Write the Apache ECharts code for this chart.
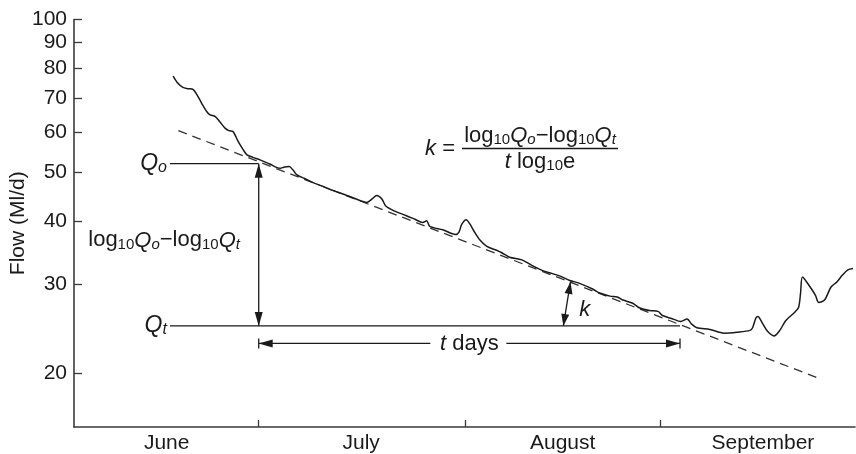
<!DOCTYPE html>
<html><head><meta charset="utf-8">
<script src="https://cdn.jsdelivr.net/npm/echarts@6/dist/echarts.min.js"></script>
<style>html,body{margin:0;padding:0;background:#fff}#c{width:856px;height:454px}</style>
</head><body><div id="c"></div>
<script>
// ---- data (days counted from 1 June = 0) ----
const monthNames = ['June', 'July', 'August', 'September'];
const monthLabelDays = [15.8, 45.8, 76.9, 107.8];
const monthStartDays = [30, 61.8, 92];
const yTickValues = [20, 30, 40, 50, 60, 70, 80, 90, 100];

const flowDays = [16.8,17.5,18.3,19.1,19.9,20.5,21.2,22.0,22.5,23.3,24.0,24.8,25.4,26.0,26.8,27.6,28.2,29.1,30.2,31.7,33.3,34.0,34.7,35.3,35.9,37.1,38.4,39.9,41.5,43.6,45.6,46.7,47.5,48.2,49.0,49.6,51.0,52.7,54.1,55.3,55.9,56.4,58.4,60.4,60.9,61.3,62.0,62.6,63.2,64.1,65.2,66.7,67.5,68.7,70.6,72.1,73.8,75.2,76.5,78.0,79.5,81.6,82.6,84.2,85.3,86.2,87.7,88.8,90.3,91.6,92.3,93.9,95.1,96.1,96.8,97.6,99.6,101.8,103.8,105.8,106.2,106.7,107.0,107.8,108.5,109.5,110.4,111.3,112.7,113.3,113.6,113.9,115.0,115.9,116.4,117.3,118.3,119.2,120.1,120.9,121.7];
const flowValues = [77.3,74.9,73.4,73.0,72.7,70.9,68.3,65.7,64.8,64.3,62.8,61.0,60.3,60.1,57.5,55.3,54.0,53.4,52.8,51.8,50.8,51.1,51.2,50.4,49.3,48.5,47.6,46.8,45.9,44.9,43.9,43.5,44.2,44.9,44.2,42.8,41.8,41.0,40.3,39.7,40.0,39.0,38.4,37.6,38.0,39.3,40.2,39.4,38.2,36.7,35.6,35.0,34.6,33.9,33.5,32.7,31.9,31.5,31.1,30.5,30.1,29.3,28.8,28.4,28.3,27.9,27.5,26.9,26.6,26.5,26.0,25.6,25.3,25.6,25.0,24.6,24.4,24.0,24.1,24.3,24.6,25.7,25.9,25.0,24.2,23.7,24.3,25.4,26.4,27.0,28.8,31.0,29.7,28.5,27.6,27.9,29.6,30.3,31.3,32.0,32.2];

const recessionDays = [17.6, 116.6];
const recessionFlows = [60.3, 19.5];

// annotation anchors (data units)
const qLevels = [51.9, 24.8];          // Qo, Qt
const qLineDays = [16.3, 30, 95];      // line start, Qo day (1 July), Qt day
const tArrowFlow = 22.9;
const kArrowDays = [78.1, 77.0];
const kArrowFlows = [30.3, 24.8];
const kLabelPoint = [80.3, 26.7];
const diffLabelPoint = [3.7, 36.6];
const formulaPoint = [73.4, 55.6];

// ---- chart ----
const FONT = '"Liberation Sans", Arial, Helvetica, sans-serif';
const INK = '#1a1a1a';
const lg = v => Math.log10(v);

const RICH = {
  n:  {fontSize: 22, fontFamily: FONT, lineHeight: 24, fill: INK},
  i:  {fontSize: 22, fontFamily: FONT, fontStyle: 'italic', lineHeight: 24, fill: INK},
  s:  {fontSize: 15, fontFamily: FONT, lineHeight: 12, verticalAlign: 'bottom', fill: INK},
  is: {fontSize: 15, fontFamily: FONT, fontStyle: 'italic', lineHeight: 12, verticalAlign: 'bottom', fill: INK},
  Q:  {fontSize: 23, fontFamily: FONT, fontStyle: 'italic', lineHeight: 24, fill: INK},
  Qs: {fontSize: 16, fontFamily: FONT, fontStyle: 'italic', lineHeight: 12, verticalAlign: 'bottom', fill: INK}
};
const DIFF = '{n|log}{s|10}{i|Q}{is|o}{n|\u2212log}{s|10}{i|Q}{is|t}';

function renderAnnotations(params, api) {
  const P = (d, v) => api.coord([d, lg(v)]);
  const kids = [];
  const seg = (a, b) => kids.push({type: 'line', shape: {x1: a[0], y1: a[1], x2: b[0], y2: b[1]}, style: {stroke: INK, lineWidth: 1.3}});
  const head = (tip, from, len, wid) => {
    const dx = tip[0] - from[0], dy = tip[1] - from[1];
    const L = Math.hypot(dx, dy), ux = dx / L, uy = dy / L;
    const bx = tip[0] - ux * len, by = tip[1] - uy * len;
    kids.push({type: 'polygon', shape: {points: [[tip[0], tip[1]], [bx - uy * wid / 2, by + ux * wid / 2], [bx + uy * wid / 2, by - ux * wid / 2]]}, style: {fill: INK}});
  };
  const txt = (p, text, align, va) => kids.push({type: 'text', x: p[0], y: p[1], style: {text: text, rich: RICH, align: align, verticalAlign: va, fill: INK}});

  const [Qo, Qt] = qLevels;
  const [d0, dO, dT] = qLineDays;
  // Qo / Qt lines
  seg(P(d0, Qo), P(dO, Qo));
  seg(P(d0, Qt), P(dT, Qt));
  const qoL = P(d0, Qo), qtL = P(d0, Qt);
  txt([qoL[0] - 3, qoL[1]], '{Q|Q}{Qs|o}', 'right', 'middle');
  txt([qtL[0] - 3, qtL[1]], '{Q|Q}{Qs|t}', 'right', 'middle');
  // vertical double arrow
  const va = P(dO, Qo), vb = P(dO, Qt);
  seg(va, vb); head(va, vb, 14, 8); head(vb, va, 14, 8);
  txt(P(diffLabelPoint[0], diffLabelPoint[1]), DIFF, 'left', 'middle');
  // t days arrow
  const tl = P(dO, tArrowFlow), tr = P(dT, tArrowFlow);
  const mid = (tl[0] + tr[0]) / 2;
  seg(tl, [mid - 39, tl[1]]); seg([mid + 37, tr[1]], tr);
  seg([tl[0], tl[1] - 5], [tl[0], tl[1] + 5]);
  seg([tr[0], tr[1] - 5], [tr[0], tr[1] + 5]);
  head(tl, tr, 14, 8); head(tr, tl, 14, 8);
  txt([mid, tl[1]], '{i|t}{n| days}', 'center', 'middle');
  // k arrow
  const ka = P(kArrowDays[0], kArrowFlows[0]), kb = P(kArrowDays[1], kArrowFlows[1]);
  seg(ka, kb); head(ka, kb, 12, 8); head(kb, ka, 12, 8);
  txt(P(kLabelPoint[0], kLabelPoint[1]), '{i|k}', 'center', 'middle');
  // formula
  const fc = P(formulaPoint[0], formulaPoint[1]);
  seg([fc[0] - 78, fc[1]], [fc[0] + 78, fc[1]]);
  txt([fc[0], fc[1] - 1], DIFF, 'center', 'bottom');
  txt([fc[0], fc[1] + 1], '{i|t}{n| log}{s|10}{n|e}', 'center', 'top');
  txt([fc[0] - 85, fc[1]], '{i|k}{n| =}', 'right', 'middle');
  return {type: 'group', children: kids};
}

const chart = echarts.init(document.getElementById('c'), null, {renderer: 'canvas'});
chart.setOption({
  animation: false,
  backgroundColor: '#fff',
  grid: {left: 74, right: 1, top: 19.5, bottom: 27, containLabel: false, outerBoundsMode: 'none'},
  xAxis: {
    type: 'value', min: 1.5, max: 122,
    axisLine: {show: true, lineStyle: {color: '#3a3a3a', width: 1.6}},
    axisTick: {show: true, inside: true, length: 7, customValues: monthStartDays, lineStyle: {color: '#3a3a3a', width: 1.3}},
    axisLabel: {show: true, customValues: monthLabelDays, margin: 6, fontSize: 21, fontFamily: FONT, color: INK,
      formatter: v => monthNames[monthLabelDays.indexOf(v)] || ''},
    splitLine: {show: false}
  },
  yAxis: {
    type: 'value', min: 1.1947, max: 2,
    name: 'Flow (Ml/d)', nameLocation: 'middle', nameGap: 45, nameMoveOverlap: false,
    nameTextStyle: {fontSize: 21, fontFamily: FONT, color: INK},
    axisLine: {show: true, lineStyle: {color: '#3a3a3a', width: 1.6}},
    axisTick: {show: true, inside: true, length: 8, customValues: yTickValues.map(lg), lineStyle: {color: '#3a3a3a', width: 1.3}},
    axisLabel: {show: true, customValues: yTickValues.map(lg), margin: 7, fontSize: 21, fontFamily: FONT, color: INK,
      formatter: v => String(Math.round(Math.pow(10, v)))},
    splitLine: {show: false}
  },
  series: [
    {type: 'line', data: recessionDays.map((d, i) => [d, lg(recessionFlows[i])]), symbol: 'none',
      lineStyle: {color: '#333', width: 1.3, type: [9, 6]}, silent: true, z: 2},
    {type: 'line', data: flowDays.map((d, i) => [d, lg(flowValues[i])]), symbol: 'none', smooth: 0.3,
      lineStyle: {color: INK, width: 1.5}, silent: true, z: 3},
    {type: 'custom', renderItem: renderAnnotations, data: [[60, 1.5]], silent: true, clip: false, z: 4}
  ]
});
</script>
</body></html>
